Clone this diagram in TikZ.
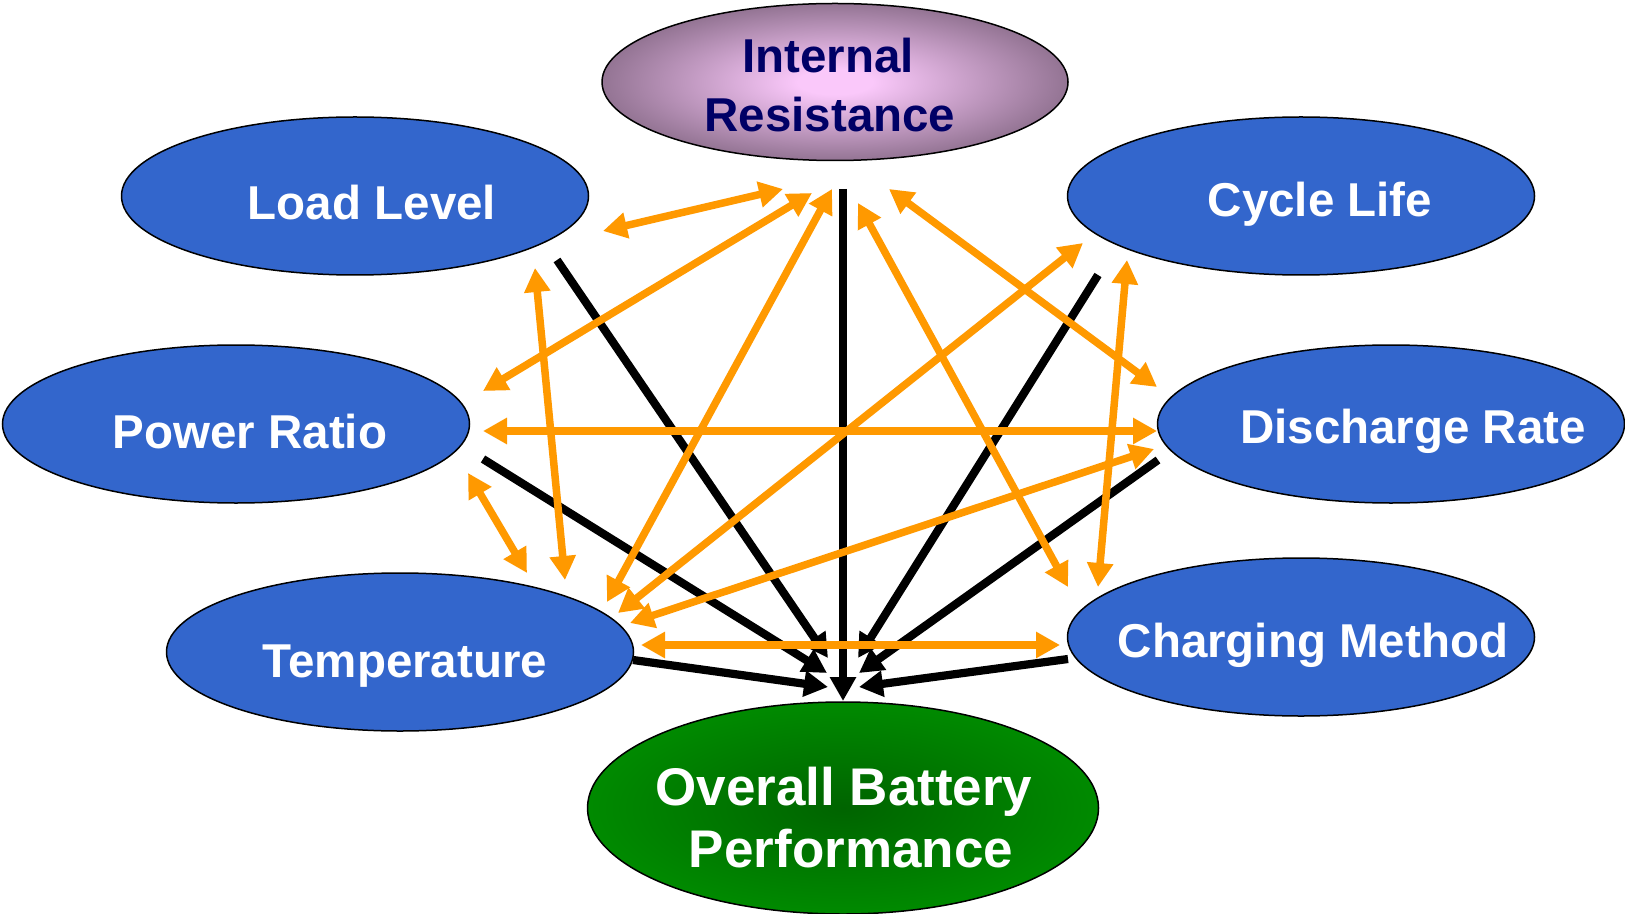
\documentclass[tikz,border=0pt]{standalone}
\usepackage{fontspec}
\setmainfont{Liberation Sans}
\usetikzlibrary{shapes.geometric,arrows.meta}
\definecolor{nodeblue}{HTML}{3366CC}
\definecolor{arrorange}{HTML}{FF9900}
\definecolor{navytext}{HTML}{000066}
\definecolor{irin}{RGB}{250,200,250}
\definecolor{irout}{RGB}{118,92,118}
\definecolor{gin}{RGB}{0,100,0}
\definecolor{gout}{RGB}{0,155,0}
\pgfdeclareradialshading{irshade}{\pgfpoint{0bp}{0bp}}{color(0bp)=(irin); color(4bp)=(irin); color(31bp)=(irout); color(100bp)=(irout)}
\pgfdeclareradialshading{gshade}{\pgfpoint{0bp}{0bp}}{color(0bp)=(gin); color(36bp)=(gout); color(100bp)=(gout)}
\tikzset{
  ellbase/.style={ellipse, draw=black, line width=0.75pt, inner sep=0pt},
  blob/.style={ellbase, fill=nodeblue, minimum width=233.5pt, minimum height=79pt},
  lbl/.style={anchor=base, inner sep=0pt, text=white, font=\fontsize{23.75}{28}\selectfont\bfseries},
  biglbl/.style={anchor=base, inner sep=0pt, text=white, font=\fontsize{26.5}{31}\selectfont\bfseries},
  blackarr/.style={draw=black, line width=4.1pt, -{Triangle[length=12pt,width=12.5pt]}},
  orangearr/.style={draw=arrorange, line width=3.75pt, {Triangle[length=12pt,width=12.5pt]}-{Triangle[length=12pt,width=12.5pt]}},
}
\begin{document}
\begin{tikzpicture}[x=0.5pt,y=-0.5pt]
\useasboundingbox (0,0) rectangle (1625,914);
\fill[white] (0,0) rectangle (1625,914);

% ellipses
\node[ellbase, shading=irshade, minimum width=233pt, minimum height=78.5pt] (ir) at (835,82) {};
\node[blob] (ll) at (355,196) {};
\node[blob] (cl) at (1301,196) {};
\node[blob] (pr) at (236,424) {};
\node[blob] (dr) at (1391,424) {};
\node[blob] (tm) at (400,652) {};
\node[blob] (cm) at (1301,637) {};
\node[ellbase, shading=gshade, minimum width=255.5pt, minimum height=106pt] (ov) at (843,808) {};

% labels
\node[lbl, text=navytext] (irA) at (828,73) {Internal};
\node[lbl, text=navytext] (irB) at (830,132) {Resistance};
\node[lbl] (llT) at (372,220) {Load Level};
\node[lbl] (clT) at (1320,217) {Cycle Life};
\node[lbl] (prT) at (250,448) {Power Ratio};
\node[lbl] (drT) at (1413,443) {Discharge Rate};
\node[lbl] (tmT) at (405,677) {Temperature};
\node[lbl] (cmT) at (1313,657) {Charging Method};
\node[biglbl] (ovA) at (844,805) {Overall Battery};
\node[biglbl] (ovB) at (851,867) {Performance};

% black arrow end points
\coordinate (bLL) at (557,260);  \coordinate (eLL) at (828,658);
\coordinate (bPR) at (483,459);  \coordinate (ePR) at (827,673);
\coordinate (bTM) at (633,660);  \coordinate (eTM) at (828,687);
\coordinate (bIR) at (843,189);  \coordinate (eIR) at (843,701);
\coordinate (bCL) at (1098,275); \coordinate (eCL) at (858,658);
\coordinate (bDR) at (1158,460); \coordinate (eDR) at (859,673);
\coordinate (bCM) at (1068,659); \coordinate (eCM) at (859,687);

\draw[blackarr] (bLL) -- (eLL);
\draw[blackarr] (bPR) -- (ePR);
\draw[blackarr] (bTM) -- (eTM);
\draw[blackarr] (bIR) -- (eIR);
\draw[blackarr] (bCL) -- (eCL);
\draw[blackarr] (bDR) -- (eDR);
\draw[blackarr] (bCM) -- (eCM);

% orange double arrows
\coordinate (o1a) at (603,231);  \coordinate (o1b) at (783,189);
\coordinate (o2a) at (483,391);  \coordinate (o2b) at (812,193);
\coordinate (o3a) at (607,602);  \coordinate (o3b) at (832,189);
\coordinate (o4a) at (535,268);  \coordinate (o4b) at (565,580);
\coordinate (o5a) at (468,473);  \coordinate (o5b) at (527,573);
\coordinate (o6a) at (483,431);  \coordinate (o6b) at (1157,431);
\coordinate (o7a) at (618,613);  \coordinate (o7b) at (1083,243);
\coordinate (o8a) at (630,623);  \coordinate (o8b) at (1154,449);
\coordinate (o9a) at (641,645);  \coordinate (o9b) at (1060,645);
\coordinate (o10a) at (858,203); \coordinate (o10b) at (1068,587);
\coordinate (o11a) at (889,189); \coordinate (o11b) at (1157,387);
\coordinate (o12a) at (1127,260); \coordinate (o12b) at (1098,587);

\foreach \i in {1,...,12} {
  \draw[orangearr] (o\i a) -- (o\i b);
}
\end{tikzpicture}
\end{document}
